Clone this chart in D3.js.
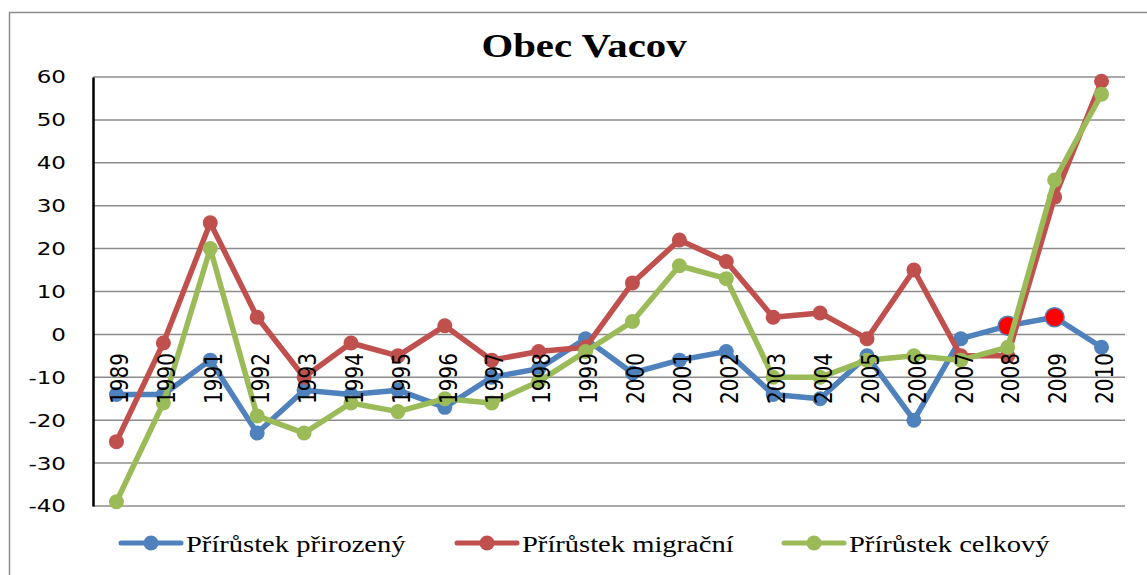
<!DOCTYPE html>
<html>
<head>
<meta charset="utf-8">
<script src="https://cdn.jsdelivr.net/npm/d3@7"></script>
<style>
  html, body { margin: 0; padding: 0; background: #fff; }
  svg { display: block; }
</style>
</head>
<body>
<div id="chart"></div>
<script>
const years = ['1989','1990','1991','1992','1993','1994','1995','1996','1997','1998','1999',
  '2000','2001','2002','2003','2004','2005','2006','2007','2008','2009','2010'];
const prirozeny = [-14,-14,-6,-23,-13,-14,-13,-17,-10,-8,-1,-9,-6,-4,-14,-15,-5,-20,-1,2,4,-3];
const migracni = [-25,-2,26,4,-10,-2,-5,2,-6,-4,-3,12,22,17,4,5,-1,15,-5,-5,32,59];
const celkovy = [-39,-16,20,-19,-23,-16,-18,-15,-16,-11,-4,3,16,13,-10,-10,-6,-5,-6,-3,36,56];
const highlightYears = ['2008','2009'];
const yTicks = [60,50,40,30,20,10,0,-10,-20,-30,-40];

const series = [
  { name: 'Přírůstek přirozený', values: prirozeny, color: '#4F81BD' },
  { name: 'Přírůstek migrační', values: migracni, color: '#C0504D' },
  { name: 'Přírůstek celkový', values: celkovy, color: '#9BBB59' }
];

const W = 1147, H = 575;
const plot = { left: 93, right: 1125, top: 77, bottom: 506 };
const stretch = 1.28;

const svg = d3.select('#chart').append('svg').attr('width', W).attr('height', H);

// outer frame
svg.append('rect')
  .attr('x', 9.5).attr('y', 12.5).attr('width', W + 20).attr('height', H + 20)
  .attr('fill', 'none').attr('stroke', '#8a8a8a').attr('stroke-width', 1.5);

const x = d3.scaleBand().domain(years).range([plot.left, plot.right]);
const y = d3.scaleLinear().domain([-40, 60]).range([plot.bottom, plot.top]);
const cx = d => x(d) + x.bandwidth() / 2;

// title
svg.append('text')
  .attr('transform', `translate(584,57) scale(1.2,1)`)
  .attr('text-anchor', 'middle')
  .attr('font-family', "'Liberation Serif', 'Times New Roman', serif")
  .attr('font-weight', 'bold').attr('font-size', 34)
  .text('Obec Vacov');

// grid
svg.append('g').selectAll('line')
  .data(yTicks).enter().append('line')
  .attr('x1', plot.left).attr('x2', plot.right)
  .attr('y1', d => y(d)).attr('y2', d => y(d))
  .attr('stroke', '#8c8c8c').attr('stroke-width', 1.5);

// y axis
const yAxis = svg.append('g').attr('transform', `translate(${plot.left},0)`)
  .call(d3.axisLeft(y).tickValues(yTicks).tickSize(0).tickPadding(0));
yAxis.select('.domain').attr('stroke', '#000').attr('stroke-width', 2.5);
yAxis.selectAll('.tick text').remove();
svg.append('g').selectAll('text')
  .data(yTicks).enter().append('text')
  .attr('transform', d => `translate(66,${y(d)}) scale(${stretch},1)`)
  .attr('text-anchor', 'end').attr('dy', '0.36em')
  .attr('font-family', "'DejaVu Sans', Verdana, sans-serif").attr('font-size', 18)
  .text(d => d);

// series
const line = d3.line().x((d, i) => cx(years[i])).y(d => y(d));
series.forEach(s => {
  const g = svg.append('g');
  g.append('path')
    .datum(s.values)
    .attr('fill', 'none').attr('stroke', s.color).attr('stroke-width', 5.5)
    .attr('stroke-linejoin', 'round')
    .attr('d', line);
  g.selectAll('circle')
    .data(s.values).enter().append('circle')
    .attr('cx', (d, i) => cx(years[i])).attr('cy', d => y(d))
    .attr('r', 7.5).attr('fill', s.color);
  if (s.values === prirozeny) {
    g.selectAll('circle.hl')
      .data(highlightYears).enter().append('circle')
      .attr('class', 'hl')
      .attr('cx', d => cx(d)).attr('cy', d => y(prirozeny[years.indexOf(d)]))
      .attr('r', 9.5).attr('fill', '#ff0000')
      .attr('stroke', s.color).attr('stroke-width', 1.5);
  }
});

// x labels (rotated), drawn over lines
svg.append('g').selectAll('text')
  .data(years).enter().append('text')
  .attr('transform', d => `translate(${cx(d) + 2.5},404) scale(${stretch},1) rotate(-90)`)
  .attr('dy', '0.36em')
  .attr('font-family', "'DejaVu Sans', Verdana, sans-serif").attr('font-size', 20)
  .text(d => d);

// legend
const legendX = [121, 457, 784];
const legend = svg.append('g').selectAll('g')
  .data(series).enter().append('g')
  .attr('transform', (d, i) => `translate(${legendX[i]},543)`);
legend.append('line')
  .attr('x1', 0).attr('x2', 60).attr('y1', 0).attr('y2', 0)
  .attr('stroke', d => d.color).attr('stroke-width', 5).attr('stroke-linecap', 'round');
legend.append('circle')
  .attr('cx', 30).attr('cy', 0).attr('r', 7.5).attr('fill', d => d.color);
legend.append('text')
  .attr('transform', 'translate(65,9) scale(1.19,1)')
  .attr('font-family', "'Liberation Serif', 'Times New Roman', serif").attr('font-size', 24)
  .text(d => d.name);
</script>
</body>
</html>
